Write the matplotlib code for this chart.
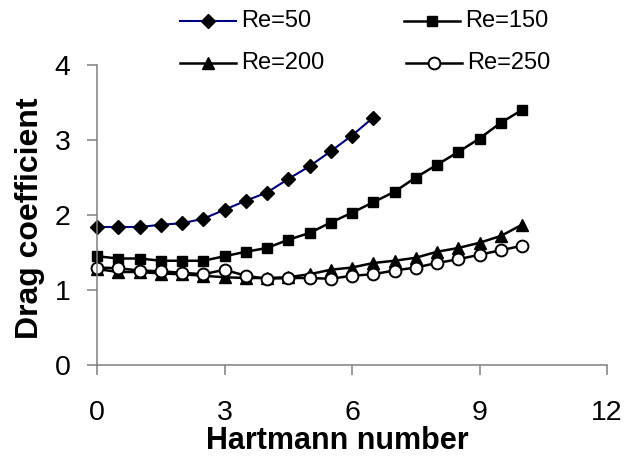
import matplotlib
matplotlib.use("Agg")
import matplotlib.pyplot as plt
from matplotlib.lines import Line2D

plt.rcParams['font.family'] = ['Liberation Sans', 'DejaVu Sans']

# Hartmann numbers sampled for each Reynolds number
hartmann = [0, 0.5, 1, 1.5, 2, 2.5, 3, 3.5, 4, 4.5, 5, 5.5, 6, 6.5,
            7, 7.5, 8, 8.5, 9, 9.5, 10]
hartmann_re50 = [0, 0.5, 1, 1.5, 2, 2.5, 3, 3.5, 4, 4.5, 5, 5.5, 6, 6.5]

# Drag coefficients
cd_re50 = [1.84, 1.84, 1.84, 1.87, 1.89, 1.95, 2.07, 2.19, 2.30, 2.48,
           2.65, 2.85, 3.06, 3.30]
cd_re150 = [1.45, 1.42, 1.42, 1.39, 1.39, 1.39, 1.45, 1.51, 1.56, 1.67,
            1.76, 1.90, 2.03, 2.17, 2.31, 2.50, 2.67, 2.84, 3.02, 3.23, 3.40]
cd_re200 = [1.28, 1.24, 1.24, 1.22, 1.21, 1.19, 1.17, 1.16, 1.16, 1.17,
            1.21, 1.27, 1.30, 1.36, 1.39, 1.43, 1.51, 1.56, 1.63, 1.72, 1.87]
cd_re250 = [1.30, 1.29, 1.26, 1.25, 1.23, 1.21, 1.27, 1.19, 1.15, 1.16,
            1.16, 1.15, 1.19, 1.21, 1.26, 1.30, 1.36, 1.41, 1.47, 1.53, 1.59]

labels = ["Re=50", "Re=150", "Re=200", "Re=250"]
x_ticks = [0, 3, 6, 9, 12]
y_ticks = [0, 1, 2, 3, 4]

W, H = 630, 458
fig = plt.figure(figsize=(W / 100, H / 100), dpi=100)
ax = fig.add_axes([97 / W, 1 - 365 / H, (607 - 97) / W, (365 - 65) / H])

styles = [
    dict(color="#000080", lw=1.5, marker="D", ms=7, mfc="black", mec="black"),
    dict(color="black", lw=1.8, marker="s", ms=7, mfc="black", mec="black"),
    dict(color="black", lw=1.8, marker="^", ms=8, mfc="black", mec="black"),
    dict(color="black", lw=1.8, marker="o", ms=8.5, mfc="white", mec="black",
         mew=1.4),
]
series = [(hartmann_re50, cd_re50), (hartmann, cd_re150),
          (hartmann, cd_re200), (hartmann, cd_re250)]

for (xs, ys), st, lab in zip(series, styles, labels):
    ax.plot(xs, ys, label=lab, clip_on=False, **st)

ax.set_xlim(0, 12)
ax.set_ylim(0, 4)
ax.set_xticks(x_ticks)
ax.set_yticks(y_ticks)
ax.set_xticklabels([str(t) for t in x_ticks])
ax.set_yticklabels([str(t) for t in y_ticks])

for side in ("top", "right"):
    ax.spines[side].set_visible(False)
for side in ("left", "bottom"):
    ax.spines[side].set_color("#7f7f7f")
    ax.spines[side].set_linewidth(1.1)
ax.tick_params(axis="both", direction="out", length=7, width=1.1,
               color="#7f7f7f", labelsize=20.5, labelcolor="black")
ax.tick_params(axis="x", pad=18)
ax.tick_params(axis="y", pad=12)

fig.text(337 / W, 1 - 441 / H, "Hartmann number", fontsize=22, fontweight="bold",
         ha="center", va="center")
fig.text(30 / W, 1 - 218 / H, "Drag coefficient", fontsize=23, fontweight="bold",
         ha="center", va="center", rotation=90)

# legend keys laid out in two rows
key_pos = [(180, 21), (404, 21), (180, 63), (406, 63)]
for (kx, ky), st, lab in zip(key_pos, styles, labels):
    x0, x1 = kx / W, (kx + 56) / W
    yy = 1 - ky / H
    fig.add_artist(Line2D([x0, x1], [yy, yy], color=st["color"], lw=st["lw"],
                          transform=fig.transFigure))
    fig.add_artist(Line2D([(x0 + x1) / 2], [yy], color=st["color"], lw=0,
                          marker=st["marker"], ms=st["ms"], mfc=st["mfc"],
                          mec=st["mec"], mew=st.get("mew", 1.0),
                          transform=fig.transFigure))
    fig.text((kx + 61) / W, yy, lab, fontsize=17, ha="left", va="center")

fig.savefig("out.png", dpi=100)
